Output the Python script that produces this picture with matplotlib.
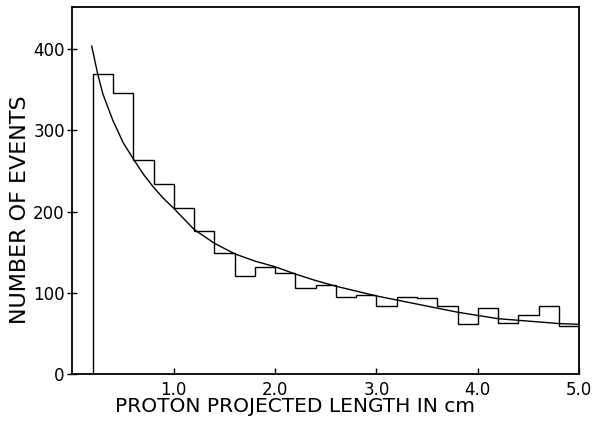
import numpy as np
import matplotlib
matplotlib.use("Agg")
import matplotlib.pyplot as plt

# histogram of proton projected lengths (bins of 0.2 cm)
bin_edges = [0.2, 0.4, 0.6, 0.8, 1.0, 1.2, 1.4, 1.6, 1.8, 2.0, 2.2, 2.4, 2.6,
             2.8, 3.0, 3.2, 3.4, 3.6, 3.8, 4.0, 4.2, 4.4, 4.6, 4.8, 5.0]
counts = [370, 346, 264, 234, 204, 176, 149, 120, 132, 124, 106, 109,
          95, 97, 84, 95, 93, 84, 61, 81, 63, 73, 84, 59]

# fitted curve
curve_x = [0.19, 0.25, 0.3, 0.4, 0.5, 0.6, 0.7, 0.8, 0.9, 1.0, 1.2, 1.4, 1.6, 1.8, 2.0,
           2.2, 2.4, 2.6, 2.8, 3.0, 3.2, 3.4, 3.6, 3.8, 4.0, 4.2, 4.4,
           4.6, 4.8, 5.0]
curve_y = [404, 369, 345, 312, 285, 265, 246, 230, 216, 204, 178, 161, 148, 139, 132,
           123, 115, 108, 102, 96, 91, 86, 81, 76, 72, 68, 66, 64, 62, 61]

xticks = [1.0, 2.0, 3.0, 4.0, 5.0]
yticks = [0, 100, 200, 300, 400]

plt.rcParams['font.family'] = 'DejaVu Sans'

fig = plt.figure(figsize=(5.94, 4.21), dpi=100)
ax = fig.add_axes([0.122, 0.112, 0.853, 0.871])

ax.stairs(counts, bin_edges, baseline=0, color='black', linewidth=1.0)
ax.plot(curve_x, curve_y, color='black', linewidth=1.0)

ax.set_xlim(0, 5.0)
ax.set_ylim(0, 452)
ax.set_xticks(xticks)
ax.set_xticklabels(["1.0", "2.0", "3.0", "4.0", "5.0"], fontsize=12)
ax.set_yticks(yticks)
ax.set_yticklabels([str(v) for v in yticks], fontsize=12)
ax.tick_params(axis='x', direction='in', length=4, width=1, pad=5)
ax.tick_params(axis='y', direction='inout', length=7, width=1, pad=2)

for s in ax.spines.values():
    s.set_linewidth(1.3)

ax.set_xlabel("PROTON PROJECTED LENGTH IN cm", fontsize=14.5, labelpad=-1)
ax.set_ylabel("NUMBER OF EVENTS", fontsize=16, labelpad=2)
# labels sit off-centre in the original
ax.xaxis.label.set_x(0.44)
ax.yaxis.label.set_y(0.447)

fig.savefig("out.png", dpi=100)
